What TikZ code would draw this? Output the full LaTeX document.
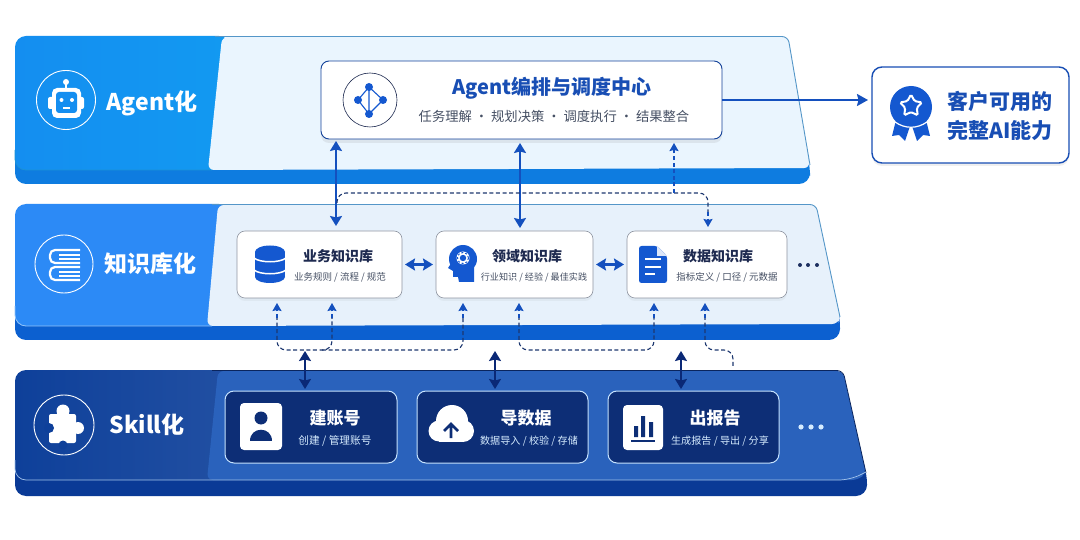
\documentclass[tikz,border=0pt]{standalone}
\usepackage{fontspec}
\setmainfont{Noto Sans CJK SC}
\usetikzlibrary{positioning, arrows.meta, shapes.geometric, shadows}
\definecolor{agentblue}{RGB}{20,142,240}
\definecolor{agentlip}{RGB}{14,124,224}
\definecolor{agentpanel}{RGB}{234,245,254}
\definecolor{kbblue}{RGB}{44,138,246}
\definecolor{kblip}{RGB}{12,96,208}
\definecolor{kbpanel}{RGB}{231,241,251}
\definecolor{skillblue}{RGB}{14,64,154}
\definecolor{skilllip}{RGB}{10,58,150}
\definecolor{skillpanel}{RGB}{42,98,188}
\definecolor{skillbox}{RGB}{13,46,118}
\definecolor{edgeblue}{RGB}{84,150,200}
\definecolor{arrowblue}{RGB}{20,80,190}
\definecolor{navy}{RGB}{10,40,118}
\definecolor{dashgrey}{RGB}{30,56,112}
\definecolor{inkdark}{RGB}{30,42,80}
\definecolor{inkgrey}{RGB}{70,80,100}
\definecolor{titleblue}{RGB}{24,78,180}
\definecolor{iconblue}{RGB}{20,88,208}
\definecolor{palesky}{RGB}{214,236,255}

\begin{document}
\begin{tikzpicture}[
  x=1pt, y=-1pt,
  >={Stealth[length=10pt,width=12pt,inset=1.5pt]},
  lighttag/.style={font=\fontsize{23}{26}\selectfont\bfseries, text=white, inner sep=0pt},
  ring/.style={draw=white, line width=0.9pt, circle, inner sep=0pt},
  kbnode/.style={draw=inkgrey!60, fill=white, rounded corners=8pt, minimum height=67pt,
                 inner sep=0pt, outer sep=0pt, line width=0.6pt,
                 drop shadow={opacity=0.08, shadow xshift=0pt, shadow yshift=-3pt}},
  skillnode/.style={draw=palesky!90!kbblue, fill=skillbox, rounded corners=9pt, minimum height=72pt,
                 inner sep=0pt, outer sep=0pt, line width=1pt},
  kbtitle/.style={font=\fontsize{14}{18}\selectfont\bfseries, text=inkdark, inner sep=0pt},
  kbsub/.style={font=\fontsize{9.5}{12}\selectfont, text=inkgrey, inner sep=0pt},
  skilltitle/.style={font=\fontsize{17}{20}\selectfont\bfseries, text=white, inner sep=0pt},
  skillsub/.style={font=\fontsize{10.1}{12}\selectfont, text=palesky, inner sep=0pt},
  biarr/.style={<->, line width=2.1pt, color=arrowblue},
  navyarr/.style={<->, line width=1.8pt, color=navy},
  dashlink/.style={dashed, dash pattern=on 4pt off 2.6pt, line width=1.1pt, color=dashgrey, rounded corners=9pt},
  dashtip/.style={-{Stealth[length=8pt,width=9pt,inset=1pt]}, line width=1.1pt, dashed, dash pattern=on 4pt off 2.6pt, color=arrowblue},
]
  \useasboundingbox (0,0) rectangle (1080,540);
  \fill[white] (0,0) rectangle (1080,540);

  % agent slab
  \fill[agentlip, rounded corners=11pt] (15,140) -- (804,140) -- (810,165) -- (810,184) -- (15,184) -- cycle;
  \path[left color=agentblue, right color=agentblue!90!cyan, rounded corners=11pt] (15,36) -- (230,36) -- (230,170) -- (15,170) -- cycle;
  \draw[cyan!45!agentblue, line width=0.8pt, rounded corners=11pt] (15,150) -- (15,170) -- (212,170);
  \fill[agentpanel, rounded corners=6pt] (222,37) -- (788,37) -- (810,168) -- (208,170) -- cycle;
  \draw[edgeblue, line width=0.9pt, rounded corners=6pt] (215,36.5) -- (788,36.5) -- (810,165);
  % knowledge slab
  \fill[kblip, rounded corners=11pt] (15,290) -- (834,290) -- (840,317) -- (840,340) -- (15,340) -- cycle;
  \path[fill=kbblue, rounded corners=11pt] (15,204) -- (230,204) -- (230,326) -- (15,326) -- cycle;
  \draw[palesky!60!kbblue, line width=0.8pt, rounded corners=11pt] (15,306) -- (15,326) -- (212,326);
  \fill[kbpanel, rounded corners=6pt] (218,205) -- (816,205) -- (840,317) -- (838,324) -- (207,326) -- cycle;
  \draw[edgeblue, line width=0.9pt, rounded corners=6pt] (212,204.5) -- (816,204.5) -- (840,317);
  % skill slab
  \fill[skilllip, rounded corners=11pt] (15,450) -- (859,450) -- (867,473) -- (867,496) -- (15,496) -- cycle;
  \path[left color=skillblue, right color=skillblue!92!white, rounded corners=11pt] (15,370) -- (230,370) -- (230,480) -- (15,480) -- cycle;
  \fill[skillpanel, rounded corners=6pt] (218,371) -- (843,371) -- (866,473) -- (858,480) -- (207,480) -- cycle;
  \draw[skillbox!80!black, line width=0.8pt, rounded corners=6pt] (212,370.5) -- (843,370.5) -- (866,473);
  \draw[palesky!70!skillpanel, line width=0.7pt, rounded corners=11pt] (15,460) -- (15,480) -- (850,480) -- (866,472);

  % layer tags
  \node[ring, minimum size=59pt] (agentring) at (66,100) {};
  \node[lighttag] (agenttag) at (152,103) {Agent化};
  \node[ring, minimum size=58pt] (kbring) at (64,264) {};
  \node[lighttag] (kbtag) at (150,264) {知识库化};
  \node[ring, minimum size=60pt] (skillring) at (64,425) {};
  \node[lighttag] (skilltag) at (147,425) {Skill化};

  % robot
  \draw[white, line width=1.6pt] (66,80) -- (66,88);
  \fill[white] (66,82) circle (3);
  \fill[white, rounded corners=2pt] (48,97) rectangle (84,109);
  \fill[white, rounded corners=5pt] (52,88) rectangle (81,118);
  \fill[agentblue, rounded corners=3pt] (56,92) rectangle (77,113);
  \fill[white] (61.5,100) circle (2) (72,100) circle (2);
  \draw[white, line width=1.3pt] (63,108) -- (70,108);
  % books
  \draw[white, line width=2.2pt, rounded corners=5pt]
    (80,250) -- (50,250) -- (50,263) -- (80,263)
    (80,267) -- (50,267) -- (50,280) -- (80,280);
  \draw[white, line width=1.4pt] (59,255) -- (80,255) (59,259) -- (80,259) (59,272) -- (80,272) (59,276) -- (80,276);
  % puzzle
  \fill[white, rounded corners=2pt] (49,414) rectangle (76,443);
  \fill[white] (63,411) circle (6.5) (78,428) circle (6);
  \fill[skillblue] (49,428) circle (5) (63,445) circle (4.5);

  % agent node
  \node[draw=titleblue!85!black, fill=white, rounded corners=8pt, line width=0.9pt,
        minimum width=401pt, minimum height=78pt, inner sep=0pt, outer sep=0pt,
        drop shadow={opacity=0.14, shadow xshift=0pt, shadow yshift=-4pt}] (agentnode) at (521.5,100) {};
  \node[draw=inkdark, line width=0.6pt, circle, minimum size=54pt, inner sep=0pt] (netring) at (370,100) {};
  \draw[iconblue, line width=1.1pt] (369,87) -- (358,100) -- (369,114) -- (383,100) -- cycle (369,87) -- (369,114);
  \fill[iconblue] (369,87) circle (4) (358,100) circle (4) (383,100) circle (4) (369,114) circle (4);
  \node[font=\fontsize{20}{24}\selectfont\bfseries, text=titleblue, inner sep=0pt] (agenttitle) at (552,88) {Agent编排与调度中心};
  \node[font=\fontsize{13.3}{16}\selectfont, text=inkgrey, inner sep=0pt] (agentsub) at (554,116) {任务理解 · 规划决策 · 调度执行 · 结果整合};

  % customer node
  \node[draw=titleblue, fill=white, rounded corners=10pt, line width=1.4pt, minimum width=197pt,
        minimum height=96pt, inner sep=0pt, outer sep=0pt,
        drop shadow={opacity=0.12, shadow xshift=0pt, shadow yshift=-3pt}] (customer) at (970.5,115) {};
  \fill[iconblue] (896,120) -- (892,136) -- (899,135) -- (905,141) -- (910,126) -- cycle
                  (926,120) -- (930,136) -- (923,135) -- (917,141) -- (912,126) -- cycle;
  \fill[iconblue] (911,107) circle (21);
  \draw[white, line width=1.2pt] (895,122) .. controls (905,129) and (917,129) .. (927,122);
  \node[star, star points=5, star point ratio=1.9, minimum size=23pt, draw=white, fill=iconblue,
        line width=2pt, rounded corners=1.5pt, inner sep=0pt] (medalstar) at (911,106) {};
  \node[font=\fontsize{21}{29}\selectfont\bfseries, text=titleblue, align=center, inner sep=0pt] (customertext) at (1000,115.5) {客户可用的\\完整AI能力};

  % knowledge nodes
  \node[kbnode, minimum width=165pt] (bizkb) at (319.5,264.5) {};
  \node[kbnode, minimum width=157pt, right=34pt of bizkb] (domainkb) {};
  \node[kbnode, minimum width=160pt, right=34pt of domainkb] (datakb) {};
  \node[kbtitle] (biztitle) at (338,256) {业务知识库};
  \node[kbsub] (bizsub) at (340,277) {业务规则 / 流程 / 规范};
  \node[kbtitle] (domaintitle) at (527,256) {领域知识库};
  \node[kbsub, font=\fontsize{9.1}{12}\selectfont] (domainsub) at (534,277) {行业知识 / 经验 / 最佳实践};
  \node[kbtitle] (datatitle) at (718,256) {数据知识库};
  \node[kbsub] (datasub) at (727,277) {指标定义 / 口径 / 元数据};
  \foreach \dotx in {800,808,817} \fill[inkdark!85!arrowblue] (\dotx,265) circle (2);

  % database
  \fill[iconblue] (255,252) rectangle (285,277);
  \fill[iconblue] (270,252) ellipse (15 and 6.5) (270,277) ellipse (15 and 6);
  \draw[white, line width=1.5pt] (254,258) .. controls (260,263) and (280,263) .. (286,258)
                                 (254,270) .. controls (260,275) and (280,275) .. (286,270);
  % head
  \fill[iconblue] (463,259) circle (14);
  \fill[iconblue] (452,262) -- (448,268) -- (453,271) -- (453,277) -- (458,277) -- (459,282) -- (474,282) -- (474,265) -- cycle;
  \fill[white] (463,258) circle (6.5);
  \fill[iconblue] (463,258) circle (3.2);
  \draw[iconblue, line width=1pt, dash pattern=on 2pt off 2pt] (463,258) circle (5.6);
  % document
  \fill[iconblue, rounded corners=2.5pt] (639,246) -- (657,246) -- (667,256) -- (667,283) -- (639,283) -- cycle;
  \fill[white!85!iconblue] (657,246) -- (667,256) -- (657,256) -- cycle;
  \draw[white, line width=1.7pt] (645,259) -- (661,259) (645,267) -- (661,267) (645,274) -- (655,274);

  % skill nodes
  \node[skillnode, minimum width=172pt] (accountskill) at (311,427) {};
  \node[skillnode, minimum width=171pt, right=20pt of accountskill] (importskill) {};
  \node[skillnode, minimum width=171pt, right=20pt of importskill] (reportskill) {};
  \node[skilltitle] (accounttitle) at (335,418) {建账号};
  \node[skillsub, font=\fontsize{10.7}{12}\selectfont] (accountsub) at (335,441) {创建 / 管理账号};
  \node[skilltitle] (importtitle) at (526,418) {导数据};
  \node[skillsub] (importsub) at (529,441) {数据导入 / 校验 / 存储};
  \node[skilltitle] (reporttitle) at (715,418) {出报告};
  \node[skillsub] (reportsub) at (720,441) {生成报告 / 导出 / 分享};
  \foreach \dotx in {801,811,821} \fill[palesky] (\dotx,427) circle (2.6);

  % user tile
  \fill[white, rounded corners=4pt] (240,403) rectangle (282,450);
  \fill[skillbox] (261,418) circle (6.5);
  \fill[skillbox] (250,441) .. controls (250,426) and (272,426) .. (272,441) -- cycle;
  % cloud
  \fill[white] (452,421) circle (16) (439,431) circle (10.5) (463,431) circle (11);
  \fill[white] (439,428) rectangle (463,441.5);
  \draw[skillbox, line width=2.6pt] (451,438) -- (451,426) (444,431) -- (451,424) -- (458,431);
  % chart tile
  \fill[white, rounded corners=4pt] (623,405) rectangle (663,450);
  \fill[skillbox] (634,426) rectangle (638,437) (641,416) rectangle (645,437) (649,422) rectangle (653,437);
  \fill[skillbox] (631,440) rectangle (655,442);

  % solid links
  \draw[biarr] ([xshift=15pt,yshift=-2pt]agentnode.south west) -- ([xshift=99pt,yshift=5pt]bizkb.north west);
  \draw[biarr] ([xshift=199pt,yshift=-4pt]agentnode.south west) -- ([xshift=84pt,yshift=3pt]domainkb.north west);
  \draw[-{Stealth[length=11pt,width=12pt,inset=1.5pt]}, line width=2.1pt, arrowblue, shorten >=4pt] (agentnode.east) -- (agentnode.east -| customer.west);
  \draw[biarr, shorten <=3pt, shorten >=3pt] (bizkb.east) -- (domainkb.west);
  \draw[biarr, shorten <=3pt, shorten >=3pt] (domainkb.east) -- (datakb.west);
  \draw[navyarr] ([xshift=80pt,yshift=2pt]accountskill.north west) ++(0,-38) -- ([xshift=80pt,yshift=2pt]accountskill.north west);
  \draw[navyarr] ([xshift=78pt,yshift=2pt]importskill.north west) ++(0,-38) -- ([xshift=78pt,yshift=2pt]importskill.north west);
  \draw[navyarr] ([xshift=73pt,yshift=2pt]reportskill.north west) ++(0,-38) -- ([xshift=73pt,yshift=2pt]reportskill.north west);

  % dashed links
  \coordinate (upjoin) at (674,193);
  \coordinate (leftjoin) at (337,203);
  \draw[dashlink] (leftjoin) -- (337,193) -- (708,193) -- (708,216);
  \draw[dashtip] (708,212) -- ([xshift=81pt,yshift=4pt]datakb.north west);
  \draw[dashtip] (upjoin) -- ([xshift=353pt,yshift=-4pt]agentnode.south west);

  \draw[dashlink] ([xshift=40pt,yshift=-18pt]bizkb.south west) -- ++(0,34) -- ++(55,0) -- ++(0,-34);
  \draw[dashlink] (322,350) -- (463,350) -- (463,316);
  \draw[dashlink] (519,316) -- (519,350) -- (654,350) -- (654,316);
  \draw[dashlink] (705,316) -- (705,350) -- (733,350) -- (733,367);
  \foreach \tipx/\tipnode/\tipoff in {277/bizkb/40, 332/bizkb/95, 463/domainkb/27, 519/domainkb/83, 654/datakb/27, 705/datakb/78}
    \draw[dashtip] (\tipx,318) -- ([xshift=\tipoff pt,yshift=-5pt]\tipnode.south west);
\end{tikzpicture}
\end{document}
